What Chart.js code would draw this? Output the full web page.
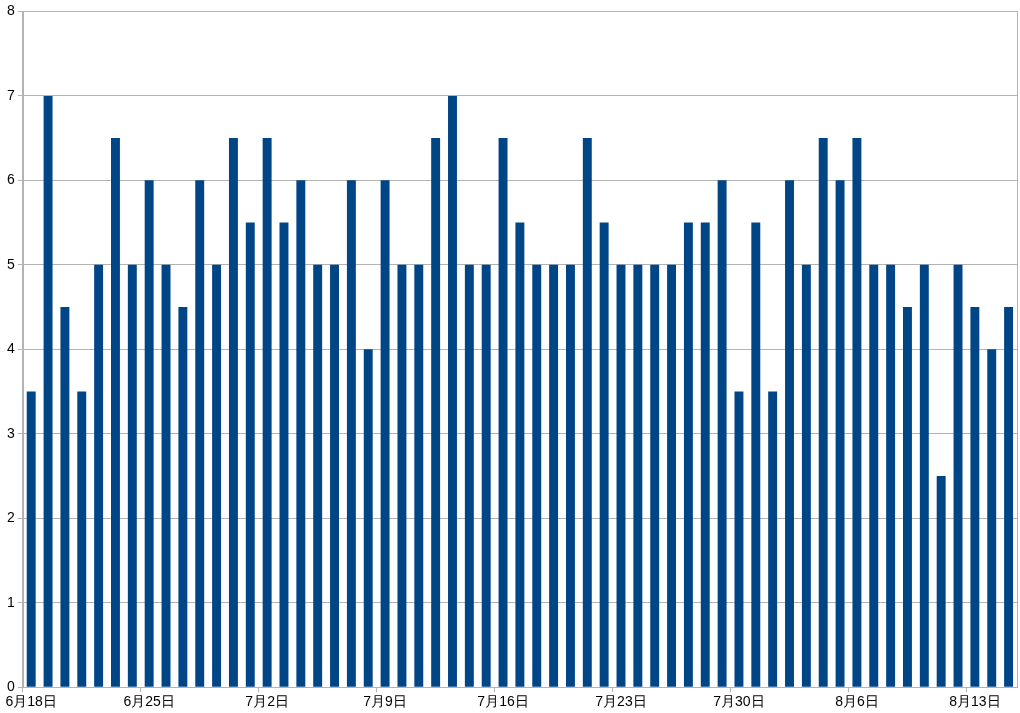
<!doctype html>
<html>

<head>
  <meta charset="utf-8">
  <title>Daily Bars</title>
  <script src="https://cdn.jsdelivr.net/npm/chart.js@4/dist/chart.umd.min.js"></script>
</head>
<style>
  html,
  body {
    margin: 0;
    padding: 0;
    background: #ffffff;
  }

  .chartContainer {
    width: 1020px;
    height: 713px;
  }
</style>

<body>
  <div class="chartContainer">
    <canvas id="plot2dId"></canvas>
  </div>
  <script>
    // one bar per day, 6/18 .. 8/15
    var categories = [
      "6月18日", "6月19日", "6月20日", "6月21日", "6月22日", "6月23日", "6月24日",
      "6月25日", "6月26日", "6月27日", "6月28日", "6月29日", "6月30日", "7月1日",
      "7月2日", "7月3日", "7月4日", "7月5日", "7月6日", "7月7日", "7月8日",
      "7月9日", "7月10日", "7月11日", "7月12日", "7月13日", "7月14日", "7月15日",
      "7月16日", "7月17日", "7月18日", "7月19日", "7月20日", "7月21日", "7月22日",
      "7月23日", "7月24日", "7月25日", "7月26日", "7月27日", "7月28日", "7月29日",
      "7月30日", "7月31日", "8月1日", "8月2日", "8月3日", "8月4日", "8月5日",
      "8月6日", "8月7日", "8月8日", "8月9日", "8月10日", "8月11日", "8月12日",
      "8月13日", "8月14日", "8月15日"
    ];
    var values = [
      3.5, 7, 4.5, 3.5, 5, 6.5, 5,
      6, 5, 4.5, 6, 5, 6.5, 5.5,
      6.5, 5.5, 6, 5, 5, 6, 4,
      6, 5, 5, 6.5, 7, 5, 5,
      6.5, 5.5, 5, 5, 5, 6.5, 5.5,
      5, 5, 5, 5, 5.5, 5.5, 6,
      3.5, 5.5, 3.5, 6, 5, 6.5, 6,
      6.5, 5, 5, 4.5, 5, 2.5, 5,
      4.5, 4, 4.5
    ];
    var yTicks = [0, 1, 2, 3, 4, 5, 6, 7, 8];
    var labelEvery = 7;

    var gridGray = "#b3b3b3";

    // box around the plot area (top and right edges)
    var frame = {
      id: 'frame',
      afterDraw: function (chart) {
        var a = chart.chartArea;
        var ctx = chart.ctx;
        ctx.save();
        ctx.strokeStyle = gridGray;
        ctx.lineWidth = 1;
        ctx.strokeRect(Math.round(a.left) + 0.5, Math.round(a.top) + 0.5,
          Math.round(a.right - a.left), Math.round(a.bottom - a.top));
        ctx.restore();
      }
    };

    var ctx = document.getElementById("plot2dId").getContext('2d');
    var myChart = new Chart(ctx, {
      type: 'bar',
      data: {
        labels: categories,
        datasets: [{
          data: values,
          backgroundColor: "#004586",
          borderWidth: 0,
          barPercentage: 0.53,
          categoryPercentage: 1.0
        }]
      },
      options: {
        responsive: true,
        maintainAspectRatio: false,
        animation: false,
        layout: { padding: { left: 4, right: 3, top: 4, bottom: 0 } },
        plugins: {
          legend: { display: false },
          tooltip: { enabled: false }
        },
        scales: {
          x: {
            offset: true,
            border: { display: true, color: gridGray },
            grid: {
              offset: true,
              drawOnChartArea: false,
              tickLength: 5,
              color: function (c) {
                return (c.index % labelEvery === 0) ? gridGray : 'rgba(0,0,0,0)';
              }
            },
            ticks: {
              autoSkip: false,
              maxRotation: 0,
              padding: 2,
              color: "#000000",
              font: { family: "Liberation Sans", size: 14 },
              callback: function (v, i) {
                return (i % labelEvery === 0) ? categories[i] : '';
              }
            }
          },
          y: {
            min: yTicks[0],
            max: yTicks[yTicks.length - 1],
            border: { display: true, color: gridGray },
            grid: { color: gridGray, tickLength: 5 },
            afterBuildTicks: function (axis) {
              axis.ticks = yTicks.map(function (v) { return { value: v }; });
            },
            ticks: {
              padding: 3,
              color: "#000000",
              font: { family: "Liberation Sans", size: 14 }
            }
          }
        }
      },
      plugins: [frame]
    });
  </script>
</body>

</html>
